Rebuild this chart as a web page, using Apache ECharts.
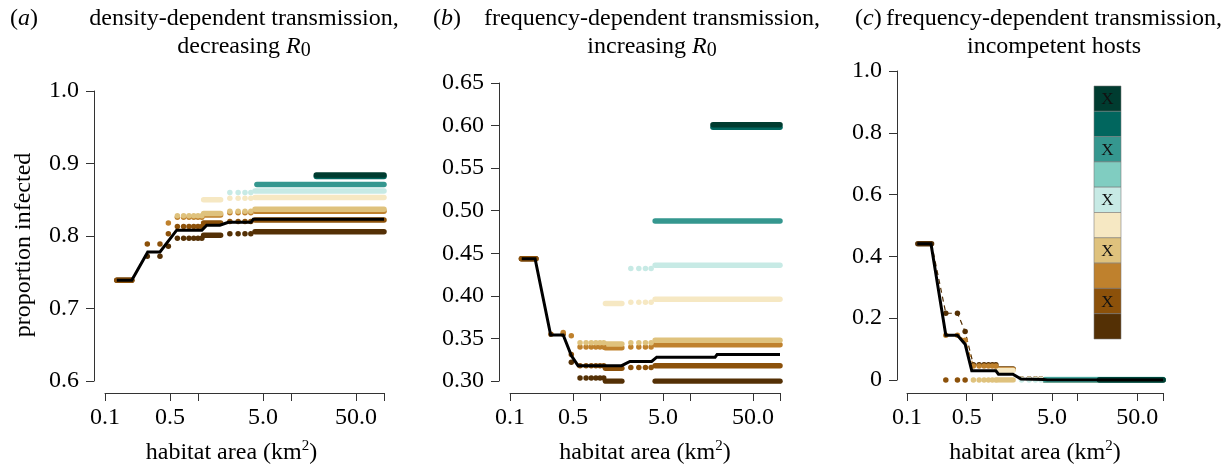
<!DOCTYPE html>
<html><head><meta charset="utf-8">
<script src="https://cdn.jsdelivr.net/npm/echarts@6/dist/echarts.min.js"></script>
<style>html,body{margin:0;padding:0;background:#fff}#c{width:1230px;height:472px}</style>
</head><body><div id="c"></div>
<script>
// BrBG palette, index 0 (dark brown) .. 9 (dark green)
const colors = ['#543005','#8c510a','#bf812d','#dfc27d','#f6e8c3','#c7eae5','#80cdc1','#35978f','#01665e','#003c30'];
const legendMarked = [1,3,5,7,9]; // hosts marked with X

// habitat-area groups (km^2)
const areaE = [0.134, 0.194];              // smallest patches (dense run)
const areaP = [0.285, 0.39, 0.48];
const areaA = [0.6, 0.7, 0.8, 0.9, 1.0, 1.1];
const areaB = [1.15, 1.75];                // dense run
const areaC = [2.2, 2.7, 3.2, 3.7];
const areaDend = 100;

const xTickAreas = [0.1, 0.5, 1, 5, 10, 50, 100];
const xLabelAreas = [0.1, 0.5, 5, 50];

// ---- panel (a) ----
const aE = [0.739, 0.739, null, null, null, null, null, null, null, null];
const aP = [[0.772,0.772,0.786],[0.789,0.789,0.803],[null,null,0.818],null,null,null,null,null,null,null];
const aA = [0.797, 0.813, 0.826, 0.828, null, null, null, null, null, null];
const aB = [0.801, 0.818, 0.829, 0.831, 0.850, null, null, null, null, null];
const aC = [0.803, 0.820, 0.832, 0.834, 0.852, 0.860, null, null, null, null];
const aD = [0.806, 0.822, 0.834, 0.837, 0.853, 0.862, null, 0.871, 0.882, 0.884];
const aDstart = [4.1, 4.1, 4.1, 4.1, 4.1, 4.1, 4.1, 4.3, 18.7, 18.7];
const aMean = [[0.134,0.739],[0.194,0.739],[0.288,0.778],[0.39,0.778],[0.59,0.808],[1.10,0.808],[1.24,0.815],[1.72,0.815],[2.12,0.819],[3.72,0.819],[3.93,0.823],[100,0.823]];

// ---- panel (b) ----
const bE = [0.4435, 0.4435, null, null, null, null, null, null, null, null];
const bP = [[null,null,0.322],[0.355,0.355,0.331],[null,0.357,0.353],null,null,null,null,null,null,null];
const bA = [0.3035, 0.318, 0.340, 0.345, null, null, null, null, null, null];
const bB = [0.2996, 0.315, 0.339, 0.3435, 0.391, null, null, null, null, null];
const bC = [0.2985, 0.316, 0.340, 0.345, 0.3925, 0.432, null, null, null, null];
const bD = [0.2996, 0.318, 0.3425, 0.348, 0.396, 0.436, null, 0.488, 0.598, 0.601];
const bDstart = [4.1, 4.1, 4.1, 4.1, 4.1, 4.1, 4.1, 4.1, 18, 18];
const bMean = [[0.135,0.4435],[0.19,0.4435],[0.283,0.354],[0.39,0.354],[0.48,0.330],[0.57,0.318],[1.74,0.318],[2.15,0.323],[3.75,0.323],[4.27,0.328],[19,0.328],[20,0.331],[100,0.331]];

// ---- panel (c) ----
const cE = [0.441, null, null, null, null, null, null, null, null, null];
const cP = [[0.216,0.216,0.157],[0,0,0],[0.145,0.145,0.129],null,null,null,null,null,null,null];
const cA = [0.049, null, 0.045, 0, null, null, null, null, null, null];
const cB = [0.036, null, 0.034, 0, 0.031, null, null, null, null, null];
const cC = [0.004, null, null, null, 0.003, 0, null, null, null, null];
const cD = [0, null, null, null, 0.001, null, 0.002, 0, 0.001, 0];
const cDstart = [4.1, 4.1, 4.1, 4.1, 4.1, 4.1, 4.1, 4.1, 18, 18];
const cPath0 = [[0.194,0.441],[0.285,0.216],[0.39,0.216],[0.48,0.157],[0.6,0.049]];
const cPath2 = [[0.194,0.441],[0.285,0.145],[0.39,0.145],[0.48,0.129],[0.6,0.045]];
const cMean = [[0.132,0.441],[0.191,0.441],[0.285,0.145],[0.39,0.145],[0.48,0.116],[0.574,0.030],[1.10,0.030],[1.18,0.019],[1.74,0.019],[2.17,0.003],[4.0,0.002],[4.4,0],[100,0]];

const FONT = "'Liberation Serif', 'Times New Roman', serif";
const lg = v => Math.log10(v);
const series = [];

function run(gi, x0, x1, y, col) {
  series.push({type:'line', xAxisIndex:gi, yAxisIndex:gi, data:[[lg(x0),y],[lg(x1),y]],
    symbol:'none', silent:true, animation:false, z:2,
    lineStyle:{color:col, width:5.5, cap:'round'}});
}
function buildPanel(gi, E, P, A, B, C, D, Dstart) {
  for (let i = 0; i < 10; i++) {
    const col = colors[i];
    if (E[i] != null) run(gi, areaE[0], areaE[1], E[i], col);
    const dots = [];
    if (P[i]) P[i].forEach((v,k) => { if (v != null) dots.push([lg(areaP[k]), v]); });
    if (A[i] != null) areaA.forEach(x => dots.push([lg(x), A[i]]));
    if (C[i] != null) areaC.forEach(x => dots.push([lg(x), C[i]]));
    if (B[i] != null) run(gi, areaB[0], areaB[1], B[i], col);
    if (D[i] != null) run(gi, Dstart[i], areaDend, D[i], col);
    if (dots.length) series.push({type:'scatter', xAxisIndex:gi, yAxisIndex:gi, data:dots,
      symbol:'circle', symbolSize:5.5, silent:true, animation:false, z:2,
      itemStyle:{color:col, opacity:1}});
  }
}
function meanLine(gi, pts) {
  series.push({type:'line', xAxisIndex:gi, yAxisIndex:gi, data:pts.map(p=>[lg(p[0]),p[1]]),
    symbol:'none', silent:true, animation:false, z:5,
    lineStyle:{color:'#000', width:3, join:'miter'}});
}
function dashPath(gi, pts, col) {
  series.push({type:'line', xAxisIndex:gi, yAxisIndex:gi, data:pts.map(p=>[lg(p[0]),p[1]]),
    symbol:'none', silent:true, animation:false, z:1,
    lineStyle:{color:col, width:1.2, type:[5,4]}});
}

buildPanel(0, aE, aP, aA, aB, aC, aD, aDstart);
meanLine(0, aMean);
dashPath(2, cPath0, colors[0]);
dashPath(2, cPath2, colors[2]);
buildPanel(1, bE, bP, bA, bB, bC, bD, bDstart);
meanLine(1, bMean);
buildPanel(2, cE, cP, cA, cB, cC, cD, cDstart);
meanLine(2, cMean);

const grids = [
  {left:105, top:91, width:279, height:291},
  {left:510, top:83, width:270, height:300},
  {left:907, top:71, width:256, height:310}
];
const axisCol = '#333';
function xAxis(gi, namePad) {
  return {type:'value', gridIndex:gi, min:-1, max:2, offset:12,
    axisLine:{show:true, onZero:false, lineStyle:{color:axisCol, width:1}},
    axisTick:{show:true, length:8, lineStyle:{color:axisCol}, customValues: xTickAreas.map(lg)},
    axisLabel:{fontFamily:FONT, fontSize:24, color:'#000', margin:13, customValues: xLabelAreas.map(lg),
      formatter: v => Math.pow(10, v).toFixed(1)},
    splitLine:{show:false},
    name:'habitat area (km{sup|2})', nameLocation:'middle', nameGap:46,
    nameTextStyle:{fontFamily:FONT, fontSize:24, color:'#000', lineHeight:28, padding:namePad,
      rich:{sup:{fontFamily:FONT, fontSize:15, lineHeight:14, verticalAlign:'top', color:'#000'}}}
  };
}
function yAxis(gi, min, max, interval, fmt, extra) {
  return Object.assign({type:'value', gridIndex:gi, min:min, max:max, interval:interval, offset:11,
    axisLine:{show:true, onZero:false, lineStyle:{color:axisCol, width:1}},
    axisTick:{show:true, length:8, lineStyle:{color:axisCol}},
    axisLabel:{fontFamily:FONT, fontSize:24, color:'#000', margin:15, formatter:fmt},
    splitLine:{show:false}}, extra || {});
}

const titleStyle = {fontFamily:FONT, fontSize:24, fontWeight:'normal', color:'#000', lineHeight:28,
  rich:{i:{fontFamily:FONT, fontSize:24, fontStyle:'italic', lineHeight:28, color:'#000'},
        n:{fontFamily:FONT, fontSize:24, lineHeight:28, color:'#000'},
        s:{fontFamily:FONT, fontSize:20, lineHeight:10, verticalAlign:'bottom', color:'#000'}}};
function title(text, left, align) {
  return {text:text, left:left, top:5, padding:0, textAlign:align, textStyle:titleStyle};
}

// legend swatches (top = index 9)
const graphic = [];
const legX = 1094, legY = 86, legW = 27, legH = 25.3;
for (let k = 0; k < 10; k++) {
  const ci = 9 - k;
  graphic.push({type:'rect', shape:{x:legX, y:legY + k*legH, width:legW, height:legH},
    style:{fill:colors[ci], stroke:'rgba(120,120,120,0.7)', lineWidth:0.8}, silent:true});
  if (legendMarked.indexOf(ci) >= 0) {
    graphic.push({type:'text', x:legX + legW/2, y:legY + k*legH + legH/2 + 1,
      style:{text:'X', fontFamily:FONT, fontSize:17, fill:'#111', align:'center', verticalAlign:'middle'}, silent:true});
  }
}

const chart = echarts.init(document.getElementById('c'), null, {renderer:'canvas'});
chart.setOption({
  animation:false,
  backgroundColor:'#fff',
  title:[
    title('{n|(}{i|a}{n|)}', 10, 'left'),
    title('density-dependent transmission,\ndecreasing {i|R}{s|0}', 244, 'center'),
    title('{n|(}{i|b}{n|)}', 433, 'left'),
    title('frequency-dependent transmission,\nincreasing {i|R}{s|0}', 652, 'center'),
    title('{n|(}{i|c}{n|)}', 855, 'left'),
    title('frequency-dependent transmission,\nincompetent hosts', 1054, 'center')
  ],
  grid:grids,
  xAxis:[xAxis(0,[0,26,0,0]), xAxis(1,0), Object.assign(xAxis(2,0), {offset:13})],
  yAxis:[
    yAxis(0, 0.6, 1.0, 0.1, v => v.toFixed(1), {name:'proportion infected', nameLocation:'middle', nameGap:58, nameRotate:90,
      nameTextStyle:{fontFamily:FONT, fontSize:24, color:'#000', padding:[0,18,0,0]}}),
    yAxis(1, 0.3, 0.65, 0.05, v => v.toFixed(2)),
    Object.assign(yAxis(2, 0, 1.0, 0.2, v => v === 0 ? '0' : v.toFixed(1)), {offset:10})
  ],
  graphic:graphic,
  series:series
});
</script></body></html>
